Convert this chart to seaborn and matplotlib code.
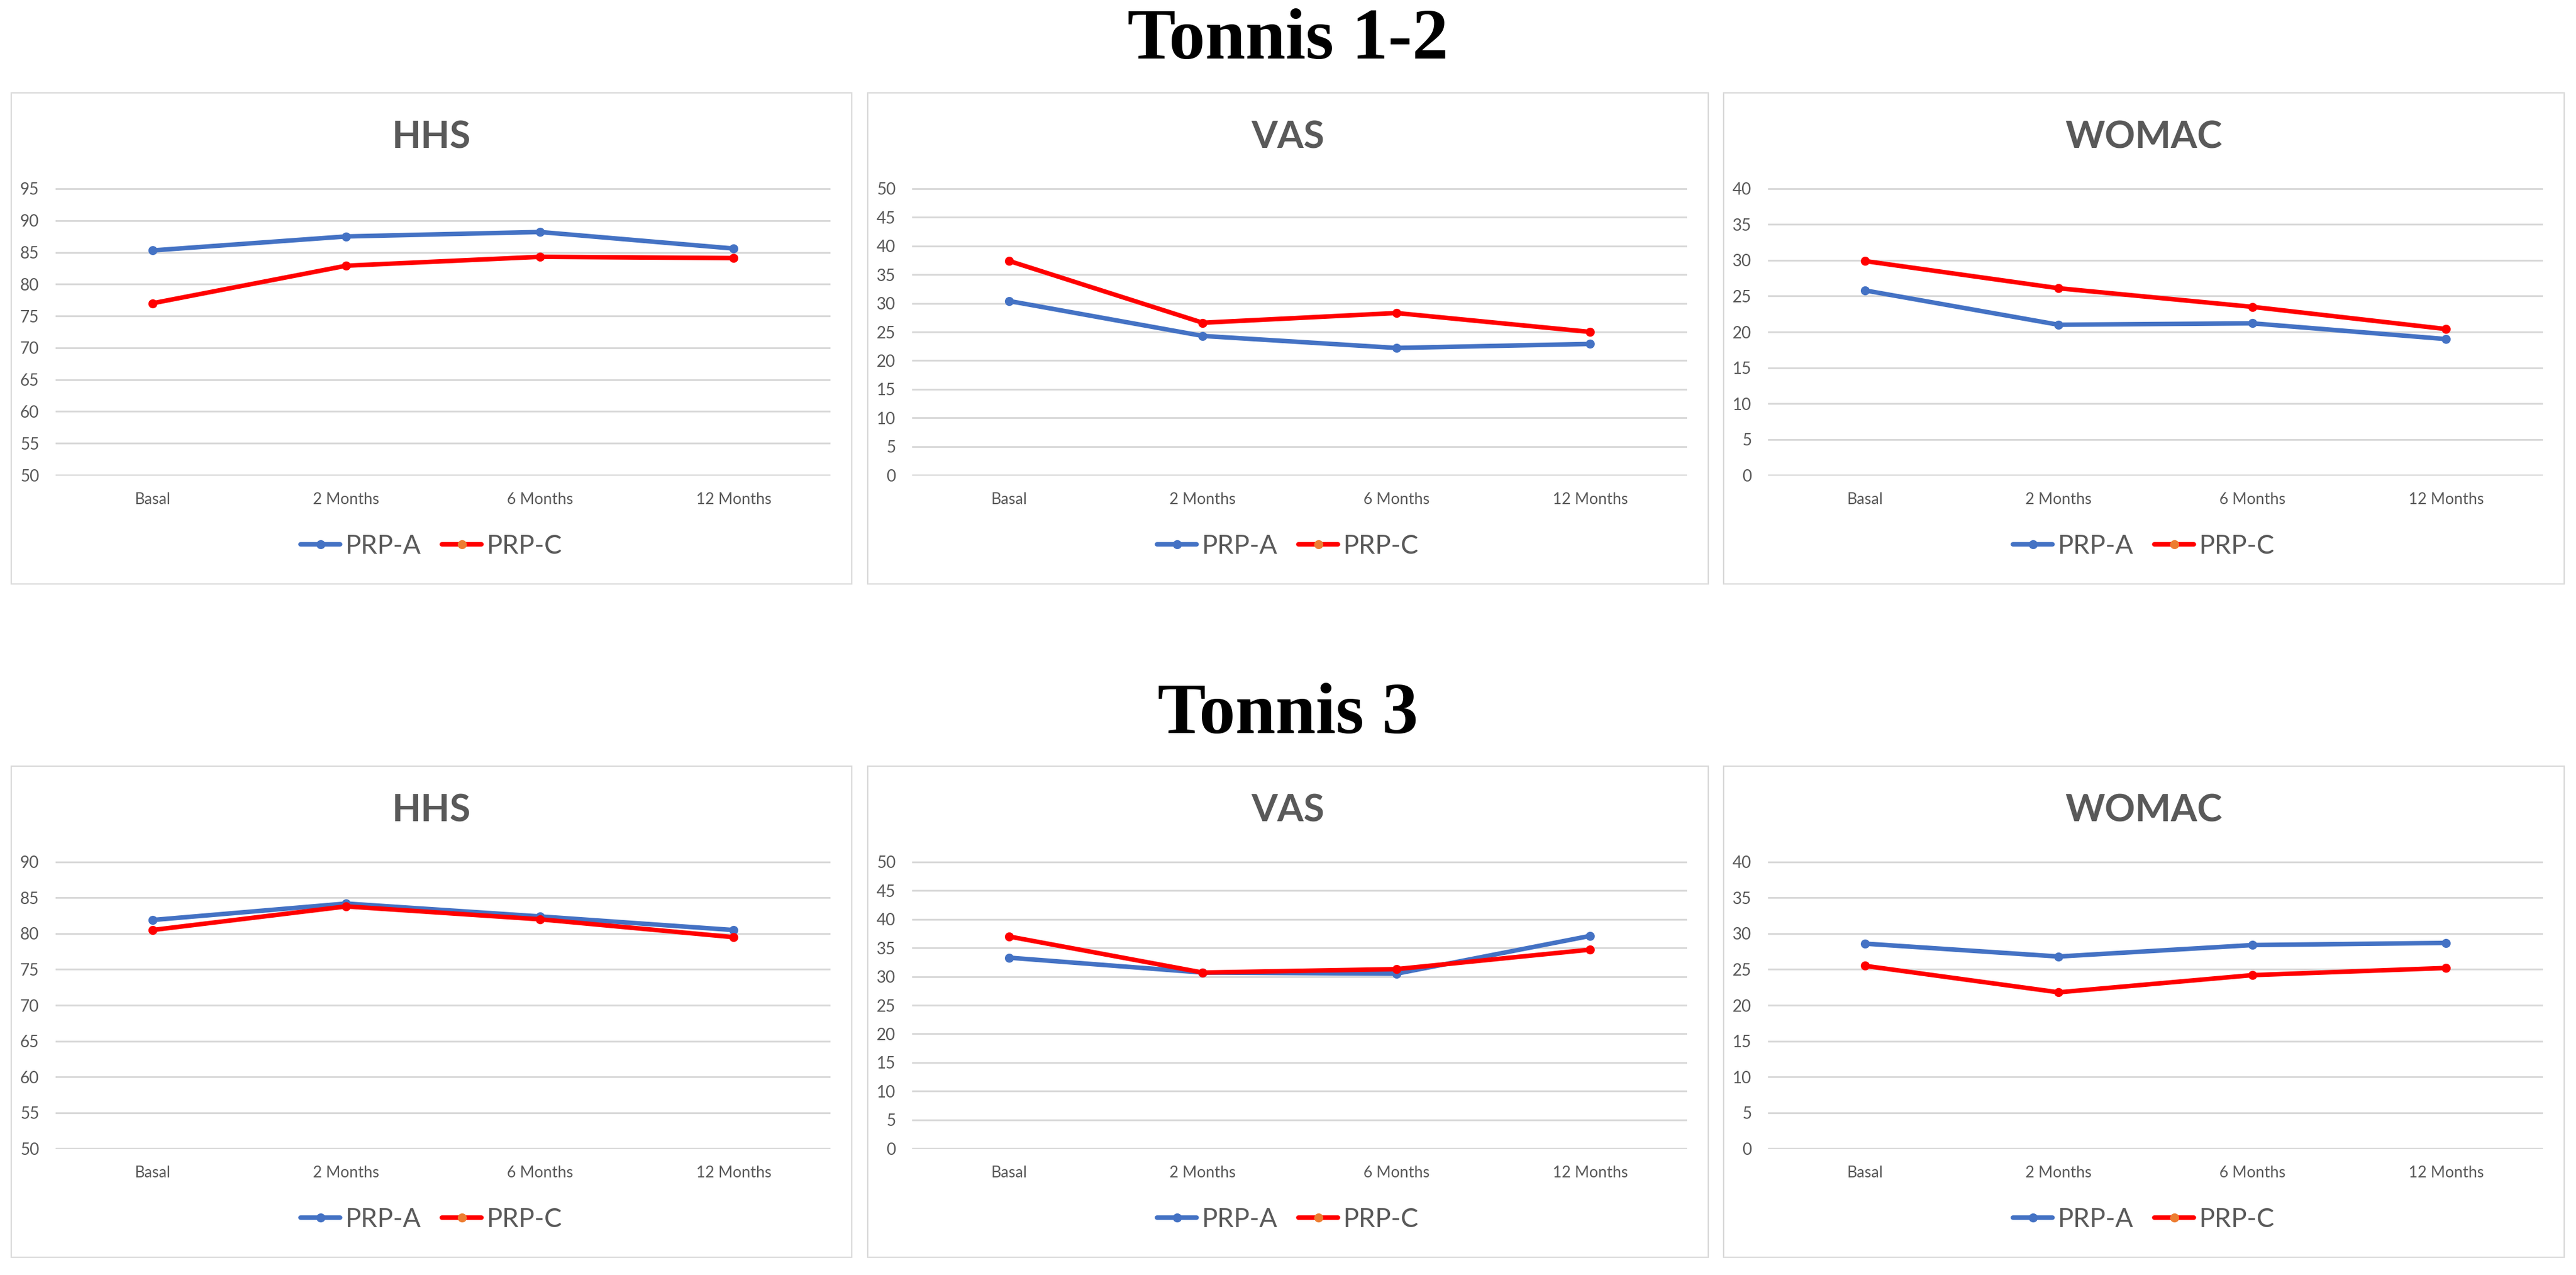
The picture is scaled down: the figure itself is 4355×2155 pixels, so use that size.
import matplotlib
matplotlib.use("Agg")
from matplotlib import pyplot as plt
from matplotlib.lines import Line2D
from matplotlib.patches import Rectangle
import numpy as np
import pandas as pd
import seaborn as sn

times = ["Basal", "2 Months", "6 Months", "12 Months"]
groups = ["PRP-A", "PRP-C"]

# Tonnis 1-2
hhs_12_a = [85.3, 87.5, 88.2, 85.6]
hhs_12_c = [77.0, 82.9, 84.3, 84.1]
vas_12_a = [30.4, 24.3, 22.2, 22.9]
vas_12_c = [37.4, 26.6, 28.3, 25.0]
womac_12_a = [25.8, 21.0, 21.2, 19.0]
womac_12_c = [29.9, 26.1, 23.5, 20.4]

# Tonnis 3
hhs_3_a = [81.9, 84.2, 82.4, 80.5]
hhs_3_c = [80.5, 83.8, 82.0, 79.5]
vas_3_a = [33.3, 30.7, 30.5, 37.1]
vas_3_c = [37.0, 30.7, 31.3, 34.7]
womac_3_a = [28.6, 26.8, 28.4, 28.7]
womac_3_c = [25.5, 21.8, 24.2, 25.2]

row_titles = ["Tonnis 1-2", "Tonnis 3"]
panel_titles = ["HHS", "VAS", "WOMAC"]
y_ranges = [[(50, 95), (0, 50), (0, 40)],
            [(50, 90), (0, 50), (0, 40)]]
series = [[(hhs_12_a, hhs_12_c), (vas_12_a, vas_12_c), (womac_12_a, womac_12_c)],
          [(hhs_3_a, hhs_3_c), (vas_3_a, vas_3_c), (womac_3_a, womac_3_c)]]

colors = {"PRP-A": "#4472C4", "PRP-C": "#FF0000"}
text_grey = "#595959"
grid_grey = "#D9D9D9"

sn.set_style("white")
plt.rcParams['font.family'] = ['Lato', 'DejaVu Sans']

W, H = 4355, 2155
fig = plt.figure(figsize=(W / 100, H / 100), dpi=100)
fig.patch.set_facecolor("white")

box_lefts = [19, 1467, 2914]
box_tops = [157, 1295]
box_w, box_h = 1421, 830
title_ys = [70, 1210]

for r in range(2):
    fig.text(0.5, 1 - title_ys[r] / H, row_titles[r], ha="center", va="center",
             fontsize=88, fontweight="bold", color="black",
             family=["Liberation Serif", "DejaVu Serif"])
    for c in range(3):
        bl, bt = box_lefts[c], box_tops[r]
        fig.add_artist(Rectangle((bl / W, 1 - (bt + box_h) / H), box_w / W, box_h / H,
                                 transform=fig.transFigure, fill=False,
                                 edgecolor=grid_grey, lw=1.6))
        ax = fig.add_axes([(bl + 75) / W, 1 - (bt + 647) / H, 1310 / W, 486 / H])

        a, b = series[r][c]
        df = pd.DataFrame({"x": np.tile(np.arange(len(times)), 2),
                           "group": np.repeat(groups, len(times)),
                           "value": a + b})
        sn.lineplot(data=df, x="x", y="value", hue="group", hue_order=groups,
                    palette=colors, marker="o", markersize=11, markeredgewidth=0,
                    linewidth=5.5, errorbar=None, legend=False, ax=ax)

        lo, hi = y_ranges[r][c]
        ax.set_xlim(-0.5, len(times) - 0.5)
        ax.set_ylim(lo - 0.002 * (hi - lo), hi + 0.002 * (hi - lo))
        ax.set_yticks(np.arange(lo, hi + 1, 5))
        ax.set_xticks(np.arange(len(times)), times)
        ax.set_xlabel("")
        ax.set_ylabel("")
        ax.yaxis.grid(True, color=grid_grey, lw=2.2)
        ax.xaxis.grid(False)
        for s in ax.spines.values():
            s.set_visible(False)
        ax.tick_params(axis="y", length=0, pad=20, labelsize=20, labelcolor=text_grey)
        ax.tick_params(axis="x", length=0, pad=20, labelsize=19, labelcolor=text_grey)

        cx = (bl + box_w / 2) / W
        fig.text(cx, 1 - (bt + 75) / H, panel_titles[c], ha="center", va="center",
                 fontsize=46, fontweight="bold", color=text_grey)

        handles = [Line2D([], [], color=colors["PRP-A"], lw=5.5, marker="o",
                          markersize=11, markeredgewidth=0),
                   Line2D([], [], color=colors["PRP-C"], lw=5.5, marker="o",
                          markersize=11, markeredgewidth=0, markerfacecolor="#ED7D31")]
        ax.legend(handles, groups, loc="center", bbox_to_anchor=(cx, 1 - (bt + 766) / H),
                  bbox_transform=fig.transFigure, ncol=2, frameon=False, fontsize=32,
                  handlelength=1.5, handletextpad=0.2, columnspacing=0.8,
                  labelcolor=text_grey)

fig.savefig("out.png", dpi=100, facecolor="white")
